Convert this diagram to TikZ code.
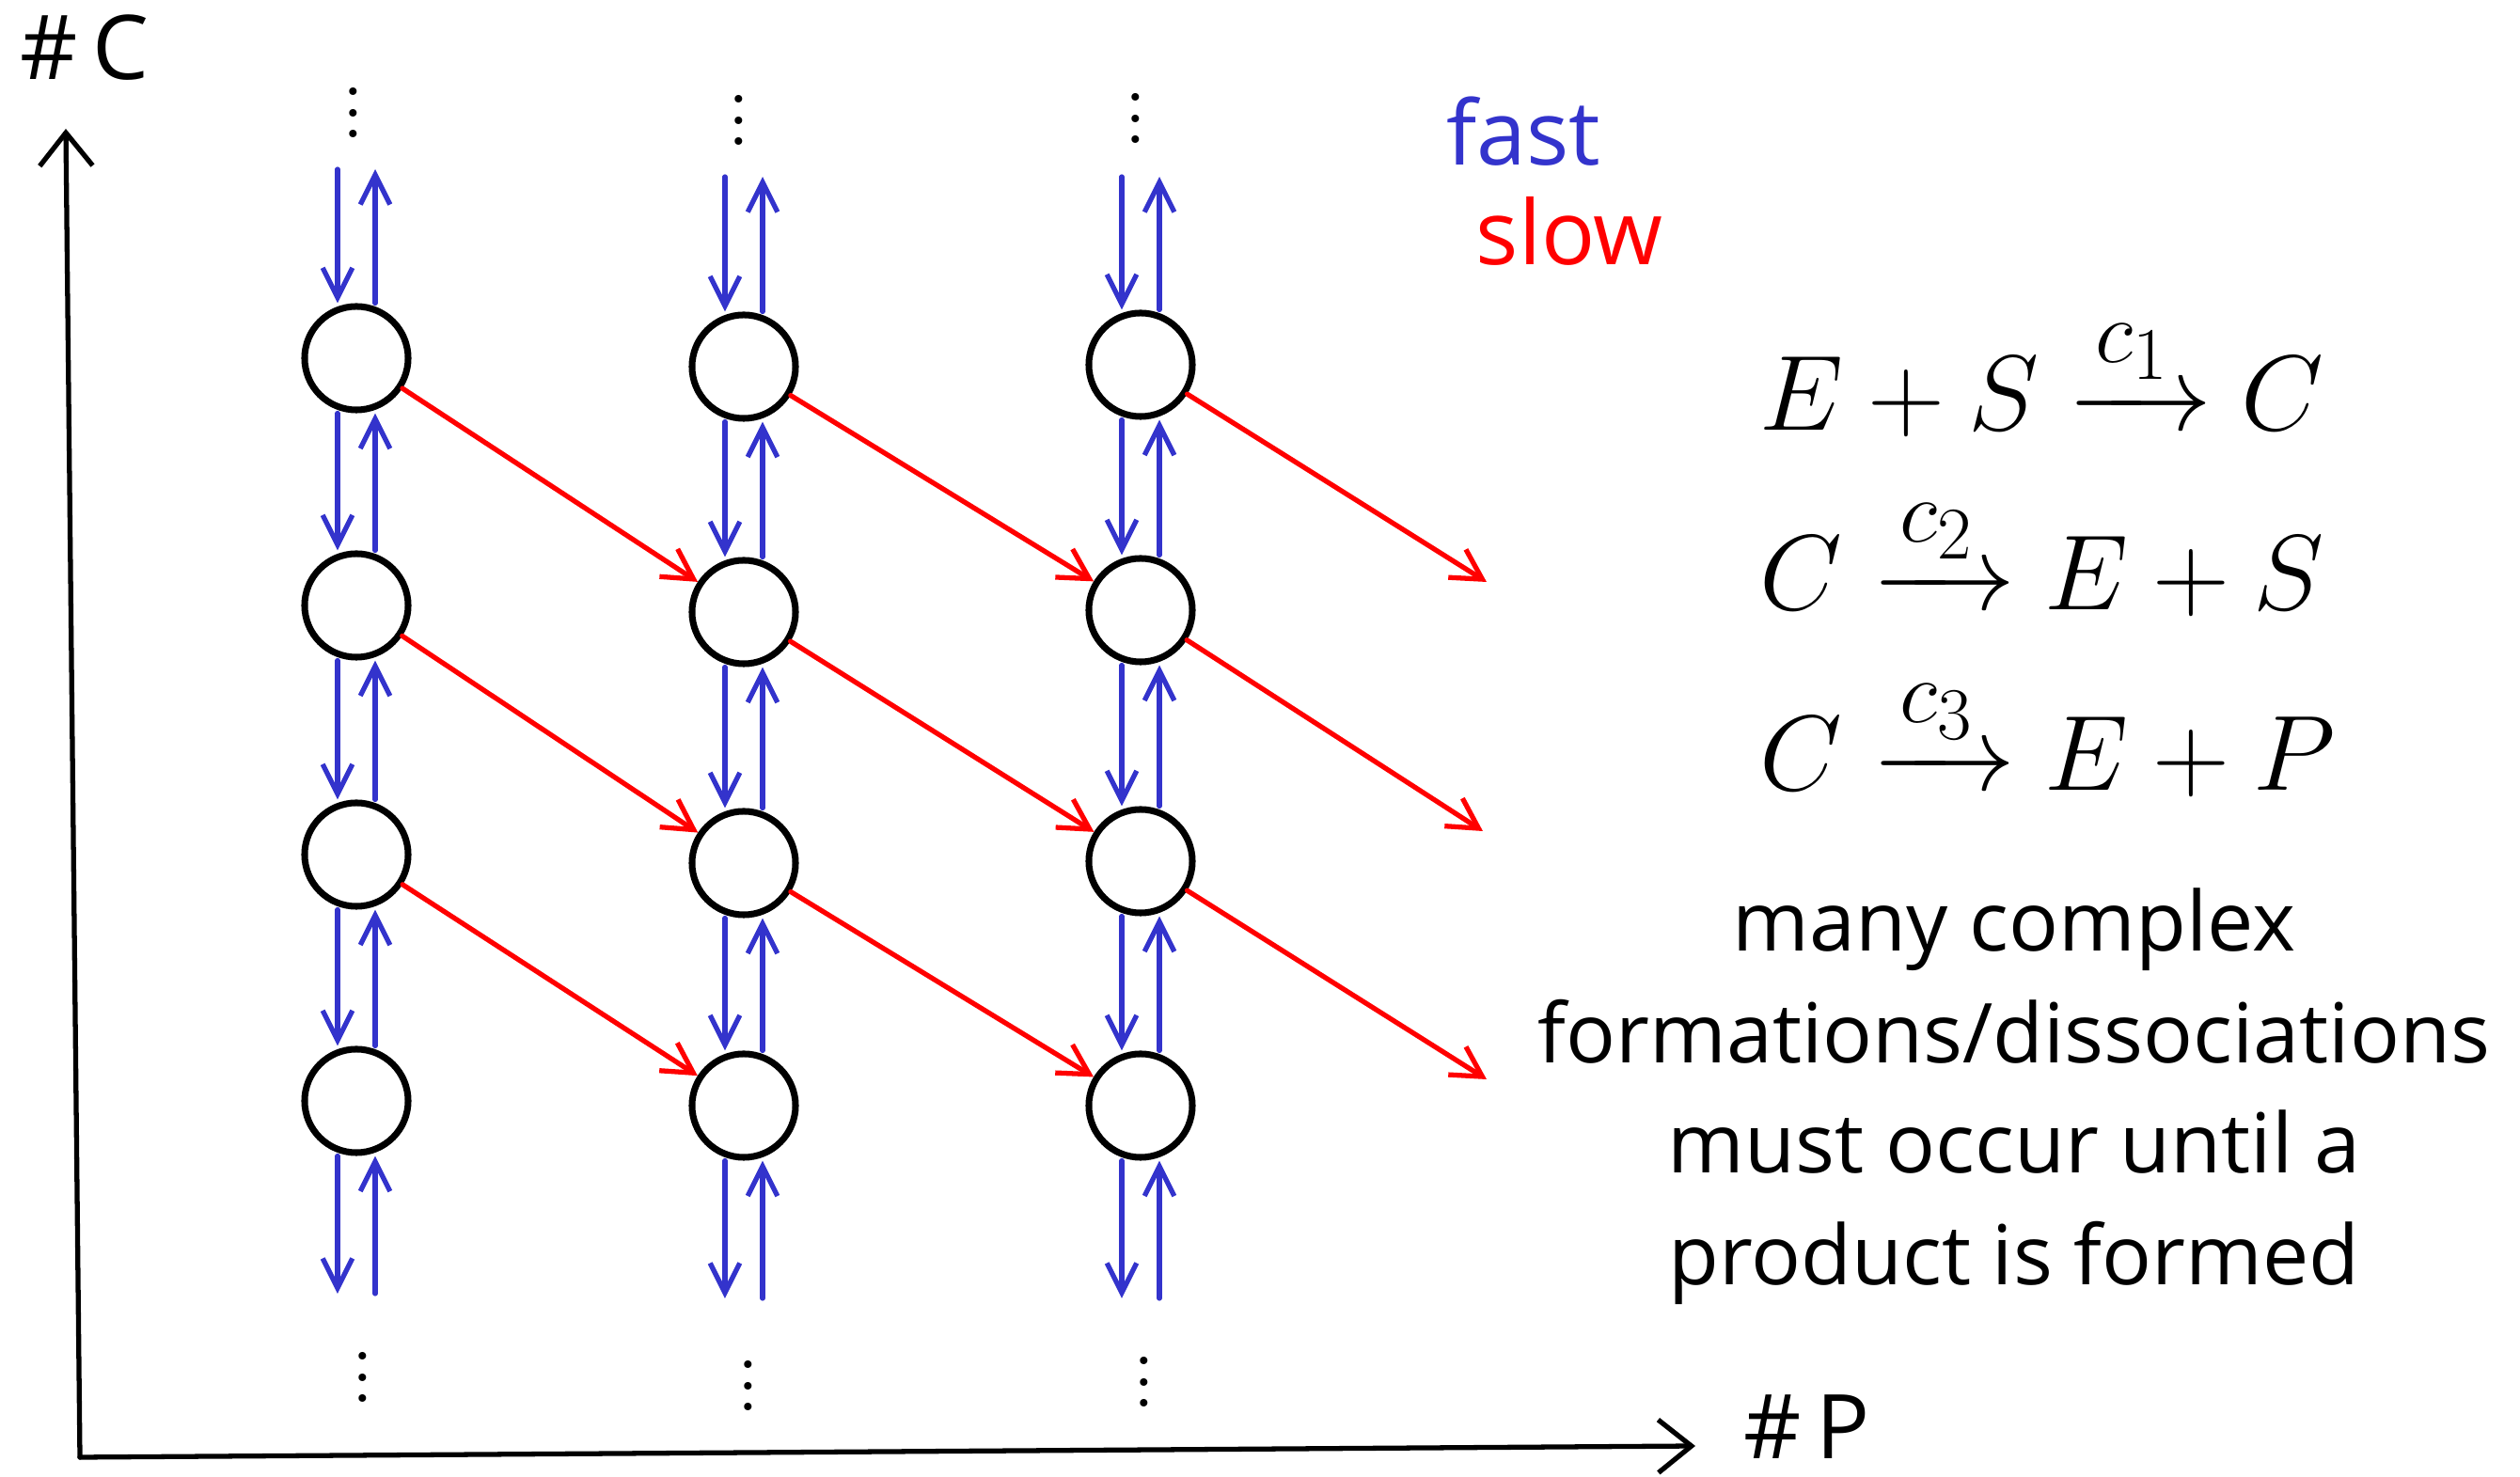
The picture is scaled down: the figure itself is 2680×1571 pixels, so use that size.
\documentclass[tikz,border=0pt]{standalone}
\usepackage{amsmath}
\usepackage{fontspec}
\newfontfamily\handfont{Open Sans}
\usetikzlibrary{arrows.meta}
\definecolor{fastblue}{RGB}{51,51,204}
\definecolor{slowred}{RGB}{255,0,0}
\newcommand{\mydots}{\vbox{\fontsize{28}{28}\selectfont\baselineskip=6.3pt\lineskiplimit=-20pt\hbox{.}\hbox{.}\hbox{.}}}
\newcommand{\bigeq}[1]{\scalebox{1.3}{\fontsize{24.88}{30}\selectfont$#1$}}
\begin{document}
\begin{tikzpicture}[x=0.01cm,y=-0.01cm,
  state/.style={circle,draw=black,line width=2pt,minimum size=1.1cm,inner sep=0pt},
  fastarr/.style={draw=fastblue,line width=1.5pt,line cap=round,-{Straight Barb[length=9pt,width=9pt]}},
  slowarr/.style={draw=slowred,line width=1.5pt,line cap=round,-{Straight Barb[length=9pt,width=10pt]}},
  axisarr/.style={draw=black,line width=1.5pt,line cap=round,-{Straight Barb[length=10pt,width=16pt]}},
  dotsnode/.style={inner sep=0pt},
  handlab/.style={font=\handfont\fontsize{27}{32}\selectfont,inner sep=0pt},
  eqnode/.style={anchor=base west,inner sep=0pt},
  txtline/.style={anchor=base,inner sep=0pt,font=\handfont\fontsize{25}{30}\selectfont}]
\useasboundingbox (0,0) rectangle (2680,1571);

% axes
\coordinate (O) at (85,1550);
\coordinate (Ytop) at (70,137);
\coordinate (Xend) at (1803,1538);
\draw[axisarr] (O) -- (Ytop);
\draw[axisarr] (O) -- (Xend);
\node[handlab] (ylab) at (90,51) {\#\,C};
\node[handlab] (xlab) at (1922,1518) {\#\,P};

% legend
\node[handlab,anchor=base west,text=fastblue] (fast) at (1538,176) {fast};
\node[handlab,anchor=base west,text=slowred] (slow) at (1569,282) {slow};

% states
\node[state] (a1) at (379,381) {};
\node[state] (a2) at (379,644) {};
\node[state] (a3) at (379,909) {};
\node[state] (a4) at (379,1171) {};
\node[state] (b1) at (791,390) {};
\node[state] (b2) at (791,651) {};
\node[state] (b3) at (791,918) {};
\node[state] (b4) at (791,1176) {};
\node[state] (c1) at (1213,388) {};
\node[state] (c2) at (1213,649) {};
\node[state] (c3) at (1213,916) {};
\node[state] (c4) at (1213,1176) {};

% free ends
\coordinate (at) at (379,180);
\coordinate (bt) at (791,188);
\coordinate (ct) at (1213,188);
\coordinate (ab) at (379,1376);
\coordinate (bb) at (791,1381);
\coordinate (cb) at (1213,1381);

% dots
\node[dotsnode] (da) at (376,120) {\mydots};
\node[dotsnode] (db) at (786,128) {\mydots};
\node[dotsnode] (dc) at (1208,126) {\mydots};
\node[dotsnode] (ea) at (386,1465) {\mydots};
\node[dotsnode] (eb) at (796,1474) {\mydots};
\node[dotsnode] (ec) at (1217,1470) {\mydots};

% fast transitions
\foreach \c in {a,b,c}{
  \draw[fastarr] ([xshift=-0.2cm]\c t) -- ([xshift=-0.2cm]\c1.north);
  \draw[fastarr] ([xshift=0.2cm]\c1.north) -- ([xshift=0.2cm]\c t);
  \foreach \i/\j in {1/2,2/3,3/4}{
    \draw[fastarr] ([xshift=-0.2cm]\c\i.south) -- ([xshift=-0.2cm]\c\j.north);
    \draw[fastarr] ([xshift=0.2cm]\c\j.north) -- ([xshift=0.2cm]\c\i.south);
  }
  \draw[fastarr] ([xshift=-0.2cm]\c4.south) -- ([xshift=-0.2cm]\c b);
  \draw[fastarr] ([xshift=0.2cm]\c b) -- ([xshift=0.2cm]\c4.south);
}

% slow transitions
\coordinate (r1) at (1581,619);
\coordinate (r2) at (1577,884);
\coordinate (r3) at (1581,1148);
\draw[slowarr] (a1) -- (b2);
\draw[slowarr] (a2) -- (b3);
\draw[slowarr] (a3) -- (b4);
\draw[slowarr] (b1) -- (c2);
\draw[slowarr] (b2) -- (c3);
\draw[slowarr] (b3) -- (c4);
\draw[slowarr] (c1) -- (r1);
\draw[slowarr] (c2) -- (r2);
\draw[slowarr] (c3) -- (r3);

% reactions
\node[eqnode] (eq1) at (1871,458) {\bigeq{E+S\xrightarrow{c_1}C}};
\node[eqnode] (eq2) at (1871,649) {\bigeq{C\xrightarrow{c_2}E+S}};
\node[eqnode] (eq3) at (1871,841) {\bigeq{C\xrightarrow{c_3}E+P}};

% explanation
\node[txtline] (l1) at (2142,1012) {many complex};
\node[txtline] (l2) at (2142,1131) {formations/dissociations};
\node[txtline] (l3) at (2142,1248) {must occur until a};
\node[txtline] (l4) at (2142,1367) {product is formed};
\end{tikzpicture}
\end{document}
